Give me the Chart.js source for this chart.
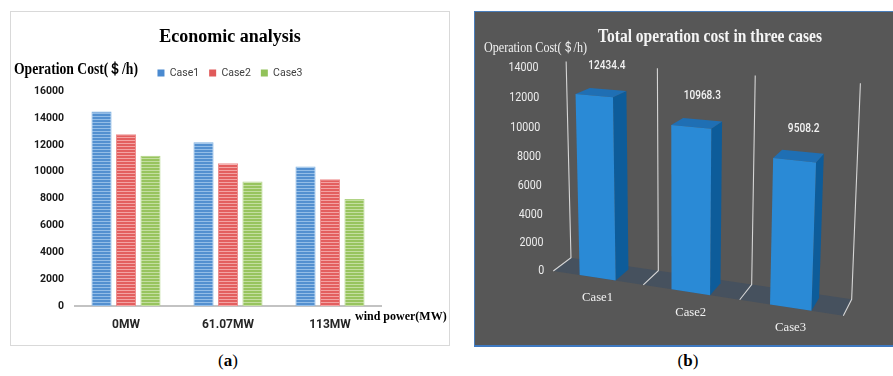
<!DOCTYPE html>
<html>
<head>
<meta charset="utf-8">
<script src="https://cdn.jsdelivr.net/npm/chart.js"></script>
<style>
  html, body { margin: 0; padding: 0; background: #fff; width: 893px; height: 376px; overflow: hidden; }
  #panelA { position: absolute; left: 10px; top: 11px; width: 438px; height: 333px; border: 1px solid #d9d9d9; background: #fff; }
  #panelB { position: absolute; left: 474px; top: 11px; width: 418px; height: 333px;
            border-left: 1px solid #4a7ebb; border-top: 1px solid #4a7ebb; border-bottom: 2px solid #3e78c0; background: #575757; }
  canvas { display: block; }
  .cap { position: absolute; top: 351px; width: 60px; text-align: center; font: 17px 'Liberation Serif', 'Times New Roman', serif; color: #000; }
</style>
</head>
<body>
<div id="panelA"><canvas id="chartA" width="438" height="333"></canvas></div>
<div id="panelB"><canvas id="chartB" width="418" height="333"></canvas></div>
<div class="cap" style="left:198px">(<b>a</b>)</div>
<div class="cap" style="left:658px">(<b>b</b>)</div>

<script>
// ---- Economic analysis: operation cost per case at three wind power levels ----
const windLevels = ['0MW', '61.07MW', '113MW'];
const caseNames = ['Case1', 'Case2', 'Case3'];
const case1Cost = [14500, 12200, 10400];
const case2Cost = [12800, 10630, 9450];
const case3Cost = [11200, 9270, 7980];
const costTicksA = [0, 2000, 4000, 6000, 8000, 10000, 12000, 14000, 16000];

// ---- Total operation cost in three cases ----
const totalCases = ['Case1', 'Case2', 'Case3'];
const totalCost = [12434.4, 10968.3, 9508.2];
const costTicksB = [0, 2000, 4000, 6000, 8000, 10000, 12000, 14000];

const SERIF = "'Liberation Serif', 'Times New Roman', serif";
const SANS = "Roboto, 'Liberation Sans', sans-serif";

function text(ctx, str, x, y, font, color, align, maxWidth) {
  ctx.save();
  ctx.font = font;
  ctx.fillStyle = color;
  ctx.textAlign = align;
  ctx.textBaseline = 'middle';
  if (maxWidth) ctx.fillText(str, x, y, maxWidth); else ctx.fillText(str, x, y);
  ctx.restore();
}

// horizontal hatch fill used by the grouped bars
function stripes(base, line) {
  const c = document.createElement('canvas');
  c.width = 4; c.height = 3;
  const g = c.getContext('2d');
  g.fillStyle = base; g.fillRect(0, 0, 4, 3);
  g.fillStyle = line; g.fillRect(0, 2, 4, 1);
  return g.createPattern(c, 'repeat');
}

const swatch = ['#4a8ad0', '#e05a5a', '#92c25a'];
const barFill = [stripes('#5390d0', '#93bde7'), stripes('#e35f5f', '#f3a3a3'), stripes('#98c45e', '#c4dea0')];
const barEdge = ['#7aaee0', '#ee8c8c', '#b0d385'];
const caseSeries = [case1Cost, case2Cost, case3Cost];

const axisTitlesA = {
  id: 'axisTitlesA',
  // leave a little air between the legend row and the plot
  afterInit(chart) {
    const legend = chart.legend;
    const fit = legend.fit;
    legend.fit = function () { fit.call(this); this.height += 3; };
  },
  afterDraw(chart) {
    const ctx = chart.ctx, ca = chart.chartArea;
    text(ctx, 'Operation Cost(＄/h)', 3, ca.top - 21, 'bold 16px ' + SERIF, '#000', 'left', 124);
    text(ctx, 'wind power(MW)', ca.right - 26, ca.bottom + 11, 'bold 12px ' + SERIF, '#000', 'left', 93);
  }
};

new Chart(document.getElementById('chartA'), {
  type: 'bar',
  data: {
    labels: windLevels,
    datasets: caseNames.map((name, i) => ({
      label: name,
      data: caseSeries[i],
      backgroundColor: barFill[i],
      borderColor: barEdge[i],
      borderWidth: 1
    }))
  },
  options: {
    responsive: false,
    animation: false,
    layout: { padding: 0 },
    datasets: { bar: { categoryPercentage: 0.72, barPercentage: 0.82 } },
    plugins: {
      title: {
        display: true, text: 'Economic analysis', color: '#000',
        font: { family: SERIF, size: 18, weight: 'bold' },
        padding: { top: 15, bottom: 9.2 }
      },
      legend: {
        position: 'top',
        labels: {
          boxWidth: 7, boxHeight: 7, padding: 10, color: '#404040',
          font: { family: SANS, size: 10.5 },
          generateLabels: chart => chart.data.datasets.map((ds, i) => ({
            text: ds.label, fillStyle: swatch[i], strokeStyle: swatch[i], lineWidth: 0,
            hidden: false, datasetIndex: i, fontColor: '#404040'
          }))
        }
      },
      tooltip: { enabled: false }
    },
    scales: {
      x: {
        grid: { display: false, drawTicks: false },
        border: { display: true, color: '#c3c3c3', width: 2 },
        ticks: { color: '#262626', font: { family: SANS, size: 12, weight: 'bold' }, padding: 12 },
        afterFit: s => { s.height = 39; }
      },
      y: {
        min: 0, max: 16000,
        grid: { display: false, drawTicks: false },
        border: { display: false },
        ticks: { color: '#1a1a1a', font: { family: SANS, size: 10.5, weight: 'bold' }, padding: 11, callback: v => String(v) },
        afterBuildTicks: s => { s.ticks = costTicksA.map(v => ({ value: v })); },
        afterFit: s => { s.width = 64; }
      },
      // empty band on the right that leaves room for the axis title
      gutter: {
        position: 'right', display: true,
        grid: { display: false, drawTicks: false }, border: { display: false }, ticks: { display: false },
        afterFit: s => { s.width = 68; }
      }
    }
  },
  plugins: [axisTitlesA]
});

// ---- perspective view for the totals ----
// camera applied to the unit box: s runs across the categories, h up the value axis, z into the depth
const CAM = {
  o: [553.3, 271], s: [205.67, 13.13], h: [-30.38, -206.08], z: [38.32, -3.904],
  ws: -0.1, wh: -0.0448, wz: 0.03615
};
const PAGE_OFFSET = [475, 12];
function P(s, h, z) {
  const w = 1 + CAM.ws * s + CAM.wh * h + CAM.wz * z;
  return {
    x: (CAM.o[0] + CAM.s[0] * s + CAM.h[0] * h + CAM.z[0] * z) / w - PAGE_OFFSET[0],
    y: (CAM.o[1] + CAM.s[1] * s + CAM.h[1] * h + CAM.z[1] * z) / w - PAGE_OFFSET[1]
  };
}
function poly(ctx, pts, fill) {
  ctx.beginPath();
  pts.forEach((p, i) => i ? ctx.lineTo(p.x, p.y) : ctx.moveTo(p.x, p.y));
  ctx.closePath();
  ctx.fillStyle = fill;
  ctx.fill();
}
function seg(ctx, pts) {
  ctx.beginPath();
  pts.forEach((p, i) => i ? ctx.lineTo(p.x, p.y) : ctx.moveTo(p.x, p.y));
  ctx.stroke();
}

const BAR_DEPTH = 0.8;
const FACE = { front: '#2a8ad6', side: '#0d5c9a', top: '#1f6fb4', floor: '#46515e', grid: '#d6d6d6' };

const perspectiveBars = {
  id: 'perspectiveBars',
  beforeDatasetsDraw(chart) {
    const ctx = chart.ctx, ca = chart.chartArea, xs = chart.scales.x, ys = chart.scales.y;
    const toS = px => (px - ca.left) / (ca.right - ca.left);
    const toH = py => (ca.bottom - py) / (ca.bottom - ca.top);

    ctx.save();
    // floor
    poly(ctx, [P(0, 0, 0), P(1, 0, 0), P(1, 0, 1), P(0, 0, 1)], FACE.floor);

    // category dividers on the floor and up the back wall
    ctx.strokeStyle = FACE.grid;
    ctx.lineWidth = 1.1;
    for (let i = 0; i <= totalCases.length; i++) {
      const b = toS(xs.getPixelForValue(i - 0.5));
      seg(ctx, [P(b, 0, 0), P(b, 0, 1), P(b, 1, 1)]);
    }

    // value axis labels along the front left edge
    costTicksB.forEach(t => {
      const p = P(0, toH(ys.getPixelForValue(t)), 0);
      text(ctx, String(t), p.x - 9, p.y, '12px ' + SANS, '#eeeeee', 'right', 6 * String(t).length);
    });

    // bars
    const meta = chart.getDatasetMeta(0);
    meta.data.forEach((el, i) => {
      const { x, y, base, width } = el.getProps(['x', 'y', 'base', 'width'], true);
      const sL = toS(x - width / 2), sR = toS(x + width / 2);
      const hT = toH(y), hB = toH(base);
      const D = BAR_DEPTH;
      poly(ctx, [P(sR, hB, 0), P(sR, hB, D), P(sR, hT, D), P(sR, hT, 0)], FACE.side);
      poly(ctx, [P(sL, hT, 0), P(sR, hT, 0), P(sR, hT, D), P(sL, hT, D)], FACE.top);
      poly(ctx, [P(sL, hB, 0), P(sR, hB, 0), P(sR, hT, 0), P(sL, hT, 0)], FACE.front);

      const sc = (sL + sR) / 2;
      const top = P(sc, hT, 0.5);
      const valueText = String(chart.data.datasets[0].data[i]);
      text(ctx, valueText, top.x + 4, top.y - 26, '500 12.5px ' + SANS, '#f2f2f2', 'center', 5.3 * valueText.length);
      const foot = P(sc, 0, 0);
      text(ctx, chart.data.labels[i], foot.x, foot.y + 20, '13.5px ' + SERIF, '#f2f2f2', 'center', 31);
    });

    // headings
    text(ctx, 'Total operation cost in three cases', 235, 25, 'bold 18px ' + SERIF, '#f4f4f4', 'center', 224);
    text(ctx, 'Operation Cost(＄/h)', 9, 36, '15px ' + SERIF, '#f2f2f2', 'left', 103);
    ctx.restore();
    return false;
  }
};

new Chart(document.getElementById('chartB'), {
  type: 'bar',
  data: {
    labels: totalCases,
    datasets: [{ label: 'Operation cost', data: totalCost, backgroundColor: FACE.front }]
  },
  options: {
    responsive: false,
    animation: false,
    layout: { padding: 0 },
    datasets: { bar: { categoryPercentage: 0.5, barPercentage: 0.8 } },
    plugins: { legend: { display: false }, title: { display: false }, tooltip: { enabled: false } },
    scales: {
      x: { display: false, offset: true },
      y: {
        display: false, min: 0, max: 14000,
        afterBuildTicks: s => { s.ticks = costTicksB.map(v => ({ value: v })); }
      }
    }
  },
  plugins: [perspectiveBars]
});
</script>
</body>
</html>
